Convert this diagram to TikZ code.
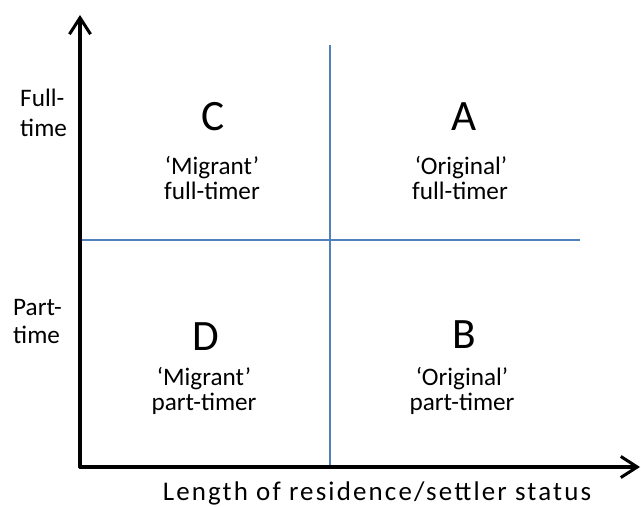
\documentclass[tikz,border=0pt]{standalone}
\usepackage{fontspec}
\setmainfont{Carlito}
\usetikzlibrary{arrows.meta}
\definecolor{quadblue}{RGB}{79,129,189}

\begin{document}
\begin{tikzpicture}[x=0.03cm, y=-0.03cm,
    axis/.style={line width=2.6pt, -{Straight Barb[length=14pt, width=18pt, line width=2.6pt]}},
    divider/.style={line width=1.3pt, quadblue},
    letter/.style={anchor=base, inner sep=0pt, font=\fontsize{37}{40}\selectfont},
    cell/.style={anchor=base, inner sep=0pt, font=\fontsize{21.5}{24}\selectfont}]
      \useasboundingbox (0, 0) rectangle (641, 507);

      \coordinate (o) at (80, 467);
      \coordinate (ytip) at (80, 15);
      \coordinate (xtip) at (640, 467);
      \coordinate (vtop) at (330, 45);
      \coordinate (vbot) at (330, 467);
      \coordinate (hleft) at (80, 240);
      \coordinate (hright) at (580, 240);

      \draw[divider] (vtop) -- (vbot);
      \draw[divider] (hleft) -- (hright);
      \draw[axis, line cap=round] (o) -- (ytip);
      \draw[axis, line cap=round] (o) -- (xtip);

      \node[letter] (C) at (213, 131) {C};
      \node[cell] (C1) at (212, 174) {‘Migrant’};
      \node[cell] (C2) at (212, 199) {full-timer};

      \node[letter] (A) at (464, 131) {A};
      \node[cell] (A1) at (461, 174) {‘Original’};
      \node[cell] (A2) at (460, 199) {full-timer};

      \node[letter] (D) at (206, 350) {D};
      \node[cell] (D1) at (204, 385) {‘Migrant’};
      \node[cell] (D2) at (204, 410) {part-timer};

      \node[letter] (B) at (464, 348) {B};
      \node[cell] (B1) at (462, 385) {‘Original’};
      \node[cell] (B2) at (462, 410) {part-timer};

      \node[cell, anchor=base west] (full1) at (20, 107) {Full-};
      \node[cell, anchor=base west] (full2) at (20, 137) {time};
      \node[cell, anchor=base west] (part1) at (13, 315) {Part-};
      \node[cell, anchor=base west] (part2) at (13, 343) {time};

      \node[cell, font=\fontsize{23}{26}\selectfont\addfontfeature{LetterSpace=8}] (xlabel) at (377, 500) {Length of residence/settler status};
    \end{tikzpicture}
\end{document}
